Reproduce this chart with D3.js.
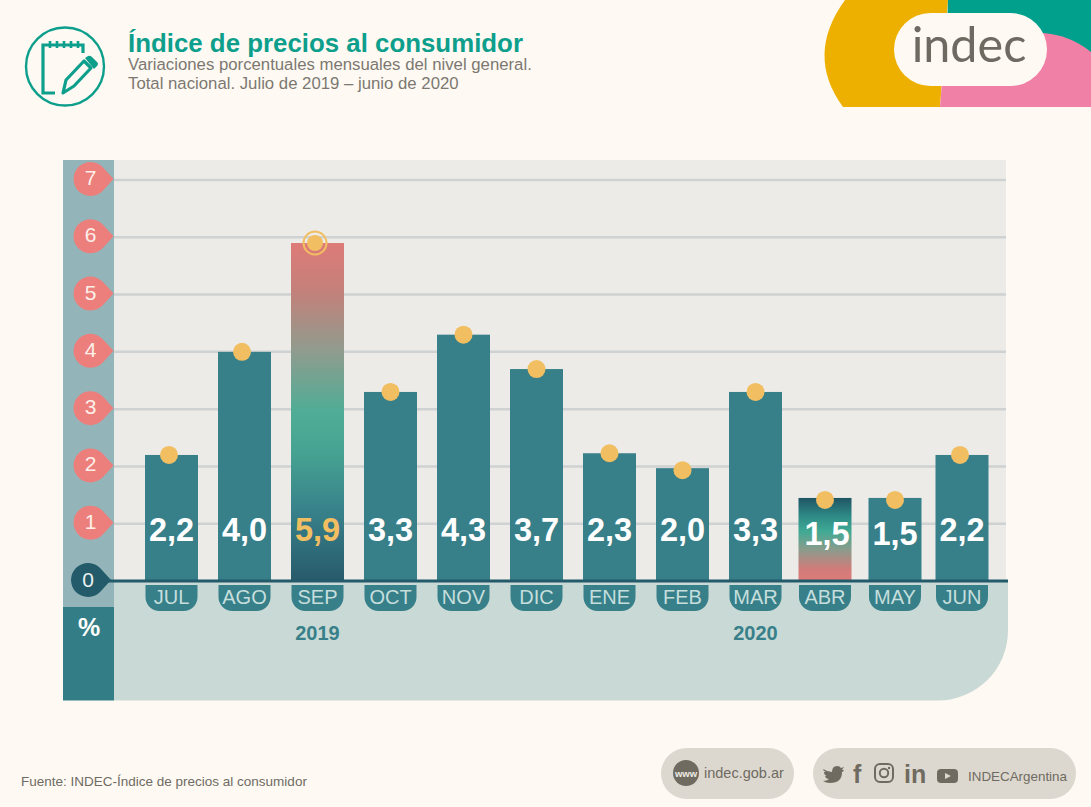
<!DOCTYPE html>
<html><head><meta charset="utf-8">
<script src="https://cdn.jsdelivr.net/npm/d3@7"></script>
<style>html,body{margin:0;padding:0;background:#FEFAF3;overflow:hidden}svg{display:block}text{font-family:"Liberation Sans",Arial,sans-serif}</style>
</head><body><svg id="c" width="1091" height="807"></svg>
<script>
const months=["JUL","AGO","SEP","OCT","NOV","DIC","ENE","FEB","MAR","ABR","MAY","JUN"];
// printed values
const values=[2.2,4.0,5.9,3.3,4.3,3.7,2.3,2.0,3.3,1.5,1.5,2.2];
// heights as actually drawn in the picture (the infographic is slightly off for a few months)
const drawnHeights=[2.2,4.0,5.9,3.3,4.3,3.7,2.23,1.97,3.3,1.45,1.45,2.2];
const yTicks=[1,2,3,4,5,6,7];
const years=[{label:"2019",at:2},{label:"2020",at:8}];
const title="Índice de precios al consumidor";
const subtitle=["Variaciones porcentuales mensuales del nivel general.","Total nacional. Julio de 2019 – junio de 2020"];
const source="Fuente: INDEC-Índice de precios al consumidor";

const svg=d3.select("#c");
svg.append("rect").attr("width",1091).attr("height",807).attr("fill","#FEFAF3");
const y=d3.scaleLinear().domain([0,7]).range([581,180]);
// month spacing in the original narrows from ABR onwards
const x=d3.scaleLinear().domain([0,8,9,10,11]).range([171.5,755.5,825,895,962]);
const barW=53;
const fmt=v=>d3.format(".1f")(v).replace(".",",");
const defs=svg.append("defs");
function grad(id,stops){const g=defs.append("linearGradient").attr("id",id).attr("x1",0).attr("x2",0).attr("y1",0).attr("y2",1);
 stops.forEach(s=>g.append("stop").attr("offset",s[0]).attr("stop-color",s[1]));}
grad("gSep",[[0,"#DE7B78"],[0.14,"#C4807A"],[0.32,"#8F9C8E"],[0.5,"#4FAD96"],[0.62,"#46A392"],[0.8,"#37808A"],[1,"#285A6A"]]);
grad("gAbr",[[0,"#1F5564"],[0.22,"#2E8A86"],[0.4,"#3FAA94"],[0.62,"#8A9C8C"],[0.85,"#D07C7A"],[1,"#DE7B78"]]);

// panels
svg.append("rect").attr("x",114).attr("y",160).attr("width",892).attr("height",421).attr("fill","#ECEBE7");
svg.append("path").attr("d","M114,581H1008V630A70,70 0 0 1 938,700.5H114Z").attr("fill","#C9D9D5");
svg.append("rect").attr("x",63).attr("y",160).attr("width",51).attr("height",447).attr("fill","#93B5BA");
svg.append("rect").attr("x",63).attr("y",607).attr("width",51).attr("height",93.5).attr("fill","#337E86");
svg.append("text").attr("x",89).attr("y",636).attr("text-anchor","middle").attr("font-size",25).attr("font-weight",700).attr("fill","#fff").text("%");

// gridlines
svg.append("g").selectAll("line").data(yTicks).join("line")
 .attr("x1",114).attr("x2",1006).attr("y1",d=>y(d)).attr("y2",d=>y(d)).attr("stroke","#CFD2D2").attr("stroke-width",2.5);

// markers
function drop(cx,cy,r,d){const a=Math.acos(r/d),tx=r*Math.cos(a),ty=r*Math.sin(a);
 return `M${cx+d},${cy}L${cx+tx},${cy-ty}A${r},${r} 0 1 0 ${cx+tx},${cy+ty}Z`;}
const tg=svg.append("g").selectAll("g").data(yTicks).join("g");
tg.append("path").attr("d",d=>drop(90.5,y(d)-1,17,23)).attr("fill","#EC7F7B");
tg.append("text").attr("x",90.5).attr("y",d=>y(d)+5).attr("text-anchor","middle").attr("font-size",21).attr("fill","#FCEFEA").text(d=>d);

// bars
svg.append("g").selectAll("rect").data(drawnHeights).join("rect")
 .attr("x",(d,i)=>x(i)-barW/2).attr("width",barW).attr("y",d=>y(d)).attr("height",d=>y(0)-y(d))
 .attr("fill",(d,i)=>months[i]==="SEP"?"url(#gSep)":months[i]==="ABR"?"url(#gAbr)":"#37808A");

// zero line + marker
svg.append("line").attr("x1",105).attr("x2",1008).attr("y1",y(0)).attr("y2",y(0)).attr("stroke","#235B6A").attr("stroke-width",3);
svg.append("path").attr("d",drop(88,y(0)-1,17,23)).attr("fill","#235B6A");
svg.append("text").attr("x",88).attr("y",y(0)+6).attr("text-anchor","middle").attr("font-size",21).attr("fill","#EAF2F0").text(0);

// month tabs
const tabs=svg.append("g").selectAll("g").data(months).join("g");
tabs.append("path").attr("d",(d,i)=>{const l=x(i)-26,r=x(i)+26;return `M${l},585H${r}V597A14,14 0 0 1 ${r-14},611H${l+14}A14,14 0 0 1 ${l},597Z`;}).attr("fill","#37808A");
tabs.append("text").attr("x",(d,i)=>x(i)).attr("y",604).attr("text-anchor","middle").attr("font-size",20).attr("fill","#C6DEDC").text(d=>d);

// years
svg.append("g").selectAll("text").data(years).join("text")
 .attr("x",d=>x(d.at)).attr("y",640).attr("text-anchor","middle").attr("font-size",20).attr("font-weight",700).attr("fill","#37808A").text(d=>d.label);

// dots
const dotShift=i=>i<3?-2.5:(i===11?-2:0);
svg.append("circle").attr("cx",x(2)+dotShift(2)).attr("cy",y(values[2])).attr("r",11.5).attr("fill","none").attr("stroke","#F2BE62").attr("stroke-width",2);
svg.append("g").selectAll("circle").data(drawnHeights).join("circle")
 .attr("cx",(d,i)=>x(i)+dotShift(i)).attr("cy",d=>y(d)+(d<2?2:0)).attr("r",d=>d===5.9?8:9).attr("fill","#F2BE62");

// value labels
svg.append("g").selectAll("text").data(values).join("text")
 .attr("x",(d,i)=>x(i)+(months[i]==="ABR"?2:0)).attr("y",d=>d<2?545:541).attr("text-anchor","middle").attr("font-size",32.5).attr("font-weight",700)
 .attr("fill",(d,i)=>months[i]==="SEP"?"#F2BE62":"#fff").text(fmt);

// header
svg.append("text").attr("x",128).attr("y",52).attr("font-size",25.85).attr("font-weight",700).attr("fill","#0E9F8C").text(title);
svg.append("g").selectAll("text").data(subtitle).join("text").attr("x",128).attr("y",(d,i)=>70+i*18.5).attr("font-size",16.75).attr("fill","#7C7871").text(d=>d);
const ic=svg.append("g").attr("fill","none").attr("stroke","#0E9F8C");
ic.append("circle").attr("cx",65).attr("cy",66.5).attr("r",39).attr("stroke-width",2.4);
ic.append("path").attr("stroke-width",3.2).attr("d","M83,53V45H43V93H55");
ic.append("path").attr("stroke-width",2.6).attr("d","M50,41V48M57,41V48M64,41V48M71,41V48M78,41V48");
ic.append("path").attr("stroke-width",3.2).attr("stroke-linejoin","round").attr("d","M84,61L91,68L74,86L63,93L66,80Z");
ic.append("path").attr("stroke","none").attr("fill","#0E9F8C").attr("d","M85,58L88,56Q90,55 92,57L97,62Q99,64 97,66L94,69Z");

// logo
const lg=svg.append("g");
lg.append("path").attr("d","M845,0Q805,55 843,107H940L948,0Z").attr("fill","#EEB000");
lg.append("path").attr("d","M948,0H1091V60H946Z").attr("fill","#00A08C");
lg.append("path").attr("d","M940,107L946,33H1043Q1070,35 1091,52V107Z").attr("fill","#F080A5");
lg.append("rect").attr("x",894).attr("y",13).attr("width",153).attr("height",73).attr("rx",36.5).attr("fill","#FEFAF3");
lg.append("text").attr("x",969).attr("y",62).attr("text-anchor","middle").attr("font-size",48.5).attr("style","font-family:Lato").attr("fill","#6E6A62").text("indec");

// footer
svg.append("text").attr("x",21).attr("y",786).attr("font-size",13.5).attr("fill","#6F6B63").text(source);
const ft=svg.append("g");
ft.append("rect").attr("x",661).attr("y",748).attr("width",133).attr("height",51).attr("rx",25.5).attr("fill","#DCD8D0");
ft.append("rect").attr("x",813).attr("y",748).attr("width",263).attr("height",51).attr("rx",25.5).attr("fill","#DCD8D0");
ft.append("circle").attr("cx",686).attr("cy",773).attr("r",13).attr("fill","#6F6B60");
ft.append("text").attr("x",686).attr("y",776.5).attr("text-anchor","middle").attr("font-size",9.5).attr("font-weight",700).attr("fill","#EEEBE4").text("www");
ft.append("text").attr("x",704).attr("y",778).attr("font-size",14.5).attr("fill","#6F6B60").text("indec.gob.ar");
ft.append("path").attr("fill","#6F6B60").attr("d","M823,769Q828,772 832,772Q832,766 837,766Q840,766 841,768L844,767L842,770L844,770Q843,772 842,772Q842,783 830,783Q826,783 823,781Q827,781 829,779Q826,779 825,776H827Q824,775 824,772L826,772Q823,771 823,769Z");
ft.append("text").attr("x",853).attr("y",783).attr("font-size",25).attr("font-weight",700).attr("fill","#6F6B60").text("f");
ft.append("rect").attr("x",875).attr("y",764).attr("width",18).attr("height",18).attr("rx",5).attr("fill","none").attr("stroke","#6F6B60").attr("stroke-width",2);
ft.append("circle").attr("cx",884).attr("cy",773).attr("r",4.2).attr("fill","none").attr("stroke","#6F6B60").attr("stroke-width",2);
ft.append("circle").attr("cx",889).attr("cy",768).attr("r",1.2).attr("fill","#6F6B60");
ft.append("text").attr("x",904).attr("y",783).attr("font-size",25).attr("font-weight",700).attr("fill","#6F6B60").text("in");
ft.append("rect").attr("x",937).attr("y",769).attr("width",21).attr("height",14).attr("rx",4).attr("fill","#6F6B60");
ft.append("path").attr("d","M945,773L951,776L945,779Z").attr("fill","#DCD8D0");
ft.append("text").attr("x",968).attr("y",781).attr("font-size",13.4).attr("fill","#6F6B60").text("INDECArgentina");
</script></body></html>
